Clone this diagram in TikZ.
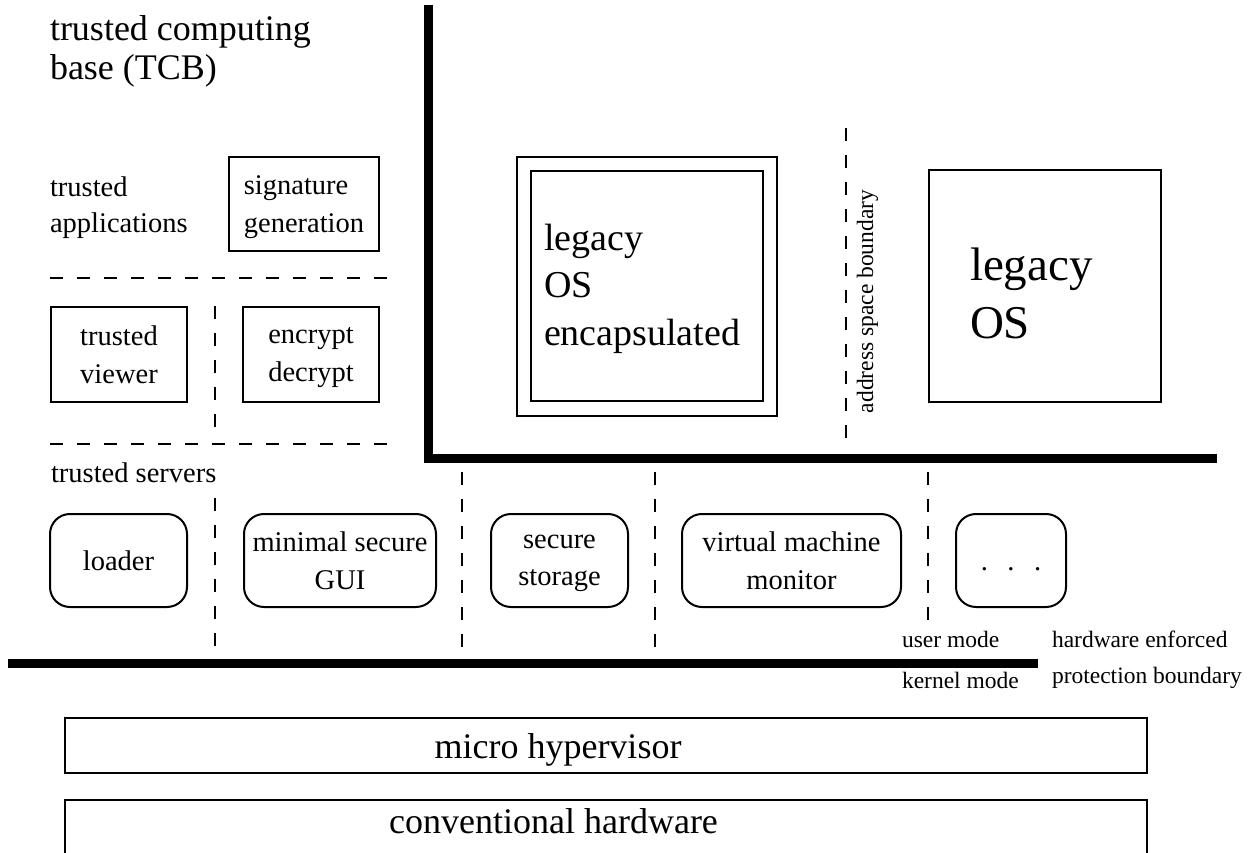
\documentclass[tikz,border=0pt]{standalone}
\usepackage{fontspec}
\setmainfont{Liberation Serif}
\newcommand\fsz[2]{\fontsize{#1}{#2}\selectfont}
\begin{document}
\begin{tikzpicture}[x=1pt,y=-1pt,
  every node/.style={inner sep=0pt, outer sep=0pt},
  box/.style={draw, line width=2pt, align=center, text depth=0pt, font=\fsz{28.5}{37.5}},
  rbox/.style={box, rounded corners=20pt},
  txt/.style={align=left, anchor=base west},
  dline/.style={line width=2pt, dash pattern=on 13pt off 14pt},
  wall/.style={line width=9pt},
  hwbox/.style={draw, line width=1.6pt}
]
\useasboundingbox (0,0) rectangle (1254,853);

% trusted applications area
\node[txt, font=\fsz{36}{39}] (tcb) at (50,80) {trusted computing\\base (TCB)};
\node[txt, font=\fsz{28.5}{36}] (tapp) at (50,233) {trusted\\applications};
\node[box, align=left, minimum width=150, minimum height=94, text depth=-4pt] (sig) at (304,204) {signature\\generation};
\coordinate (d1a) at (50,278); \coordinate (d1b) at (393,278);
\draw[dline] (d1a) -- (d1b);
\node[box, minimum width=136, minimum height=95] (viewer) at (119,354.5) {trusted\\viewer};
\node[box, minimum width=136, minimum height=95] (crypt) at (311,354.5) {encrypt\\decrypt};
\coordinate (d2a) at (215,306); \coordinate (d2b) at (215,430);
\draw[dline] (d2a) -- (d2b);
\coordinate (d3a) at (50,444); \coordinate (d3b) at (393,444);
\draw[dline] (d3a) -- (d3b);

% TCB boundary
\coordinate (w1) at (428,5); \coordinate (w2) at (428,458); \coordinate (w3) at (1217,458);
\draw[wall] (w1) -- (w2) -- (w3);

% legacy OS encapsulated
\node[draw, line width=2pt, minimum width=260, minimum height=259] (encout) at (647,286.5) {};
\node[draw, line width=2pt, minimum width=232, minimum height=230] (encin) at (647,286) {};
\node[txt, font=\fsz{38}{47.5}] (enctxt) at (544,345) {legacy\\OS\\encapsulated};

% address space boundary
\coordinate (asa) at (846,128); \coordinate (asb) at (846,443);
\draw[dline] (asa) -- (asb);
\node[rotate=90, anchor=base, font=\fsz{23.5}{28}] (asbtxt) at (873,301.5) {address space boundary};

% legacy OS
\node[draw, line width=2pt, minimum width=232, minimum height=232] (os) at (1045,286) {};
\node[txt, font=\fsz{47}{58}] (ostxt) at (970,338) {legacy\\OS};

% trusted servers
\node[txt, font=\fsz{28.5}{34}] (tsrv) at (51,482) {trusted servers};
\node[rbox, minimum width=137, minimum height=93] (loader) at (118.5,560.5) {loader};
\node[rbox, minimum width=192, minimum height=93] (gui) at (340,560.5) {minimal secure\\GUI};
\node[rbox, minimum width=137, minimum height=93] (stor) at (559.5,560.5) {secure\\storage};
\node[rbox, minimum width=219, minimum height=93] (vmm) at (791.5,560.5) {virtual machine\\monitor};
\node[rbox, minimum width=110, minimum height=93, text height=19.7pt] (dots) at (1011,560.5) {.\hspace{19.5pt}.\hspace{19.5pt}.};

\coordinate (s1a) at (215,498); \coordinate (s1b) at (215,650);
\coordinate (s2a) at (462,472); \coordinate (s2b) at (462,650);
\coordinate (s3a) at (655,472); \coordinate (s3b) at (655,650);
\coordinate (s4a) at (928,472); \coordinate (s4b) at (928,622);
\draw[dline] (s1a) -- (s1b);
\draw[dline] (s2a) -- (s2b);
\draw[dline] (s3a) -- (s3b);
\draw[dline] (s4a) -- (s4b);

% hardware enforced protection boundary
\coordinate (k1) at (8,663); \coordinate (k2) at (1038,663);
\draw[wall] (k1) -- (k2);
\node[txt, font=\fsz{23.5}{28}] (umode) at (902,647) {user mode};
\node[txt, font=\fsz{23.5}{28}] (kmode) at (902,688) {kernel mode};
\node[txt, font=\fsz{23.5}{36.5}] (hwep) at (1052,683.5) {hardware enforced\\protection boundary};

% bottom layers
\node[hwbox, minimum width=1082, minimum height=55] (micro) at (606,745.5) {};
\node[anchor=base, font=\fsz{36}{40}] (microtxt) at (558,758) {micro hypervisor};
\node[hwbox, minimum width=1082, minimum height=80] (hw) at (606,840) {};
\node[anchor=base, font=\fsz{36}{40}] (hwtxt) at (553.5,833) {conventional hardware};
\end{tikzpicture}
\end{document}
